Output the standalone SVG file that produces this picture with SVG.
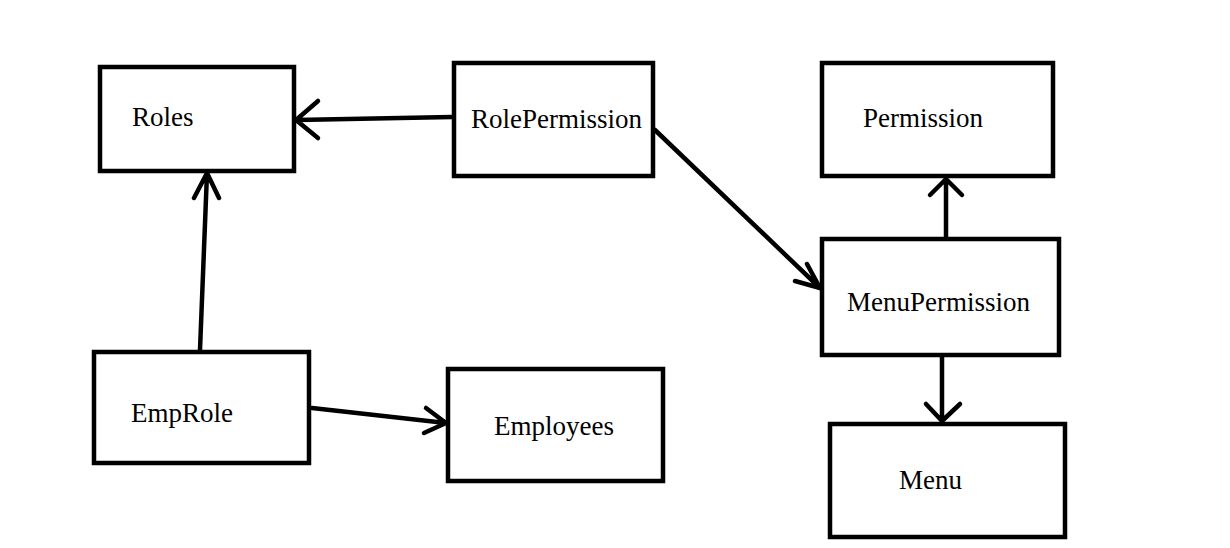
<svg xmlns="http://www.w3.org/2000/svg" width="1230" height="548" viewBox="0 0 1230 548">
<style>
.box{fill:none;stroke:#000;stroke-width:4.5}
.lbl{font-family:"Liberation Serif","Times New Roman",serif;font-size:27px;fill:#000}
.con{fill:none;stroke:#000;stroke-width:4.5;stroke-linecap:round;stroke-linejoin:round}
</style>
<rect width="1230" height="548" fill="#fff"/>
<g id="Roles"><rect class="box" x="100" y="67" width="194" height="104"/><text class="lbl" x="132" y="126">Roles</text></g>
<g id="RolePermission"><rect class="box" x="454" y="63" width="199" height="113"/><text class="lbl" x="471" y="128">RolePermission</text></g>
<g id="Permission"><rect class="box" x="822" y="63" width="231" height="113"/><text class="lbl" x="863" y="127">Permission</text></g>
<g id="MenuPermission"><rect class="box" x="822" y="239" width="237" height="116"/><text class="lbl" x="847" y="311">MenuPermission</text></g>
<g id="Menu"><rect class="box" x="830" y="424" width="235" height="113"/><text class="lbl" x="899" y="489">Menu</text></g>
<g id="EmpRole"><rect class="box" x="94" y="352" width="215" height="111"/><text class="lbl" x="131" y="422">EmpRole</text></g>
<g id="Employees"><rect class="box" x="448" y="369" width="215" height="112"/><text class="lbl" x="494" y="435">Employees</text></g>
<g id="connectors">
<path class="con" d="M452 117 L296 120 M318 101 L296 120 L318 138"/>
<path class="con" d="M655 130 L820 288 M807 264 L820 288 L795 281"/>
<path class="con" d="M946 237 L946 179 M930 195 L946 179 L962 195"/>
<path class="con" d="M942 357 L942 421 M926 404 L942 421 L960 404"/>
<path class="con" d="M200 350 L207 173 M194 198 L207 173 L219 198"/>
<path class="con" d="M312 408 L446 423 M426 408 L446 423 L424 433"/>
</g>
</svg>
